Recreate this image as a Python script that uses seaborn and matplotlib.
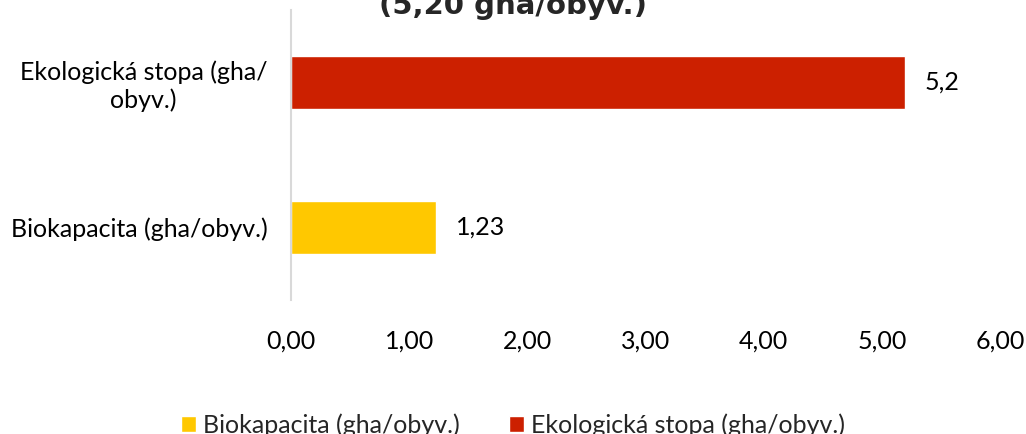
import matplotlib
matplotlib.use("Agg")
import matplotlib.pyplot as plt
import seaborn as sns
import pandas as pd

categories = ["Ekologická stopa (gha/obyv.)", "Biokapacita (gha/obyv.)"]
tick_labels = ["Ekologická stopa (gha/\nobyv.)", "Biokapacita (gha/obyv.)"]
values = [5.2, 1.23]
value_labels = ["5,2", "1,23"]
legend_order = ["Biokapacita (gha/obyv.)", "Ekologická stopa (gha/obyv.)"]
colors = {"Biokapacita (gha/obyv.)": "#FFC800", "Ekologická stopa (gha/obyv.)": "#CC2000"}
xticks = [0, 1, 2, 3, 4, 5, 6]
xtick_labels = ["0,00", "1,00", "2,00", "3,00", "4,00", "5,00", "6,00"]
title = "(5,20 gha/obyv.)"

sns.set_theme(style="white")
plt.rcParams['font.family'] = ['Lato', 'DejaVu Sans']

df = pd.DataFrame({"cat": categories, "val": values})

fig = plt.figure(figsize=(10.26, 4.34), dpi=100)
ax = fig.add_axes([291/1026, 1 - 300/434, (1000-291)/1026, 290/434])
sns.barplot(data=df, y="cat", x="val", hue="cat", hue_order=legend_order,
            palette=colors, order=categories, width=0.36, dodge=False,
            orient="h", ax=ax, legend=True, saturation=1)

fs = 18
ax.set_xlim(0, 6)
ax.set_ylim(1.5, -0.5)
ax.set_xticks(xticks)
ax.set_xticklabels(xtick_labels, fontsize=fs, color="#000000")
ax.set_yticks([0, 1])
ax.set_yticklabels(tick_labels, fontsize=fs, color="#000000", multialignment="center")
ax.tick_params(axis="x", length=0, pad=21)
ax.tick_params(axis="y", length=0, pad=17)
ax.set_xlabel("")
ax.set_ylabel("")
for s in ["top", "right", "bottom"]:
    ax.spines[s].set_visible(False)
ax.spines["left"].set_color("#D9D9D9")
ax.spines["left"].set_linewidth(1.5)

for i, (v, lab) in enumerate(zip(values, value_labels)):
    ax.annotate(lab, xy=(v, i), xytext=(14, 0), textcoords="offset points",
                va="center", ha="left", fontsize=fs, color="#000000")

handles, labels = ax.get_legend_handles_labels()
ax.legend_.remove()
fig.legend(handles, labels, loc="center", bbox_to_anchor=(0.5, 1 - 425/434),
           ncol=2, frameon=False, fontsize=fs, handlelength=0.6, handleheight=0.6,
           handletextpad=0.25, columnspacing=2.0, borderpad=0)

fig.text(0.5, 1 - 14/434, title, ha="center", va="baseline", fontsize=21,
         fontweight="bold", family="DejaVu Sans")

fig.savefig("out.png", dpi=100)
